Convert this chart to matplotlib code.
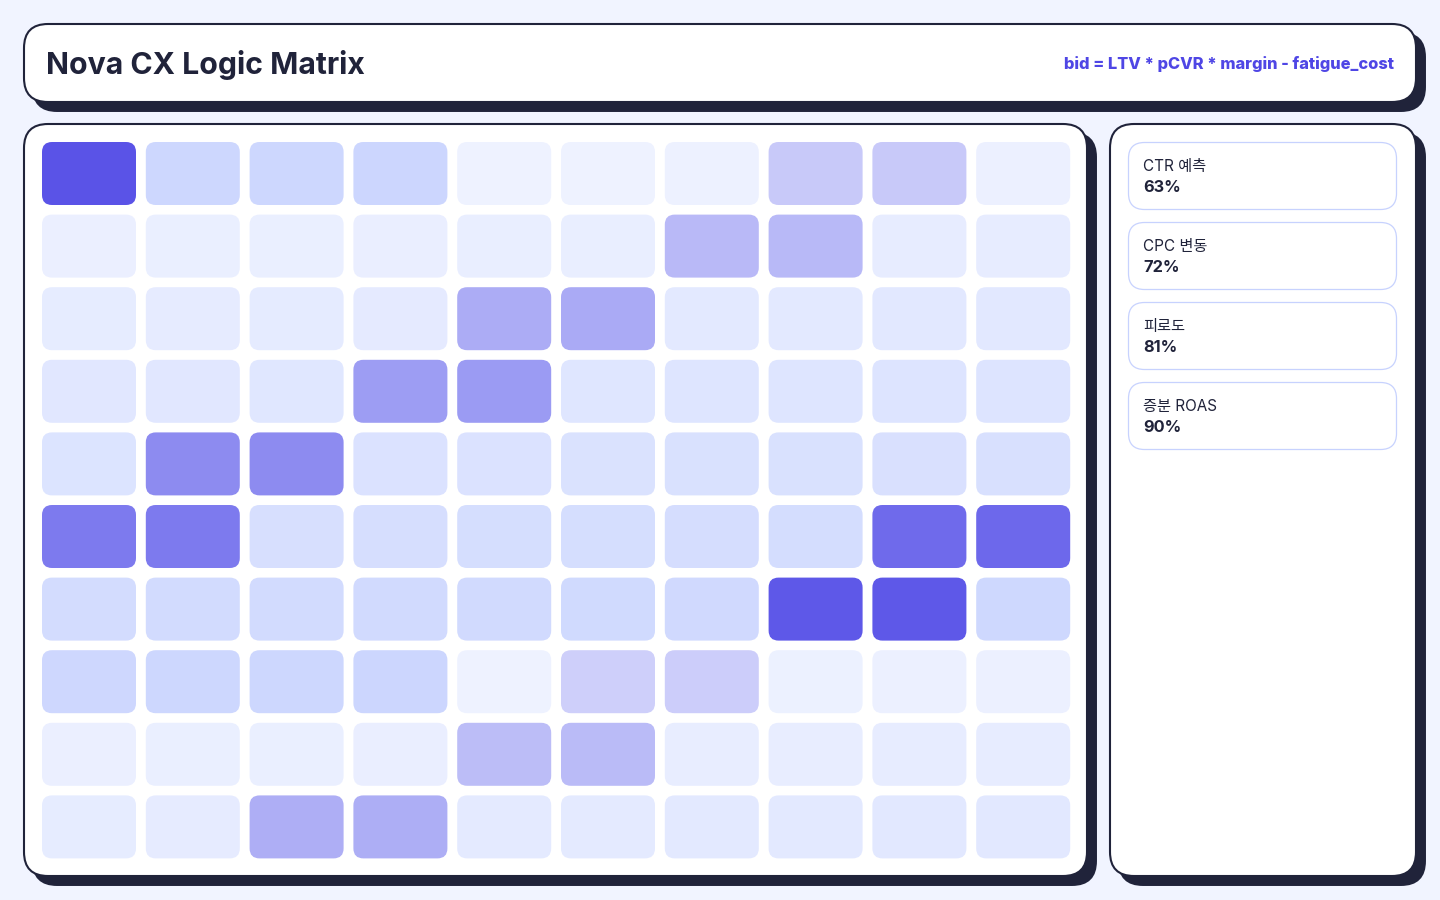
import matplotlib
matplotlib.use("Agg")
import matplotlib.pyplot as plt
from matplotlib.patches import FancyBboxPatch
from matplotlib.colors import to_rgb
import numpy as np

plt.rcParams['font.family'] = ['Inter', 'Noto Sans CJK KR', 'DejaVu Sans']

title = "Nova CX Logic Matrix"
formula = "bid = LTV * pCVR * margin - fatigue_cost"

# base tint of each cell (0 = lightest, 1 = #c7d2fe)
base_level = [
    [.83, .84, .85, .86, .00, .01, .03, .04, .05, .06],
    [.08, .09, .10, .11, .13, .14, .15, .16, .18, .19],
    [.20, .21, .23, .24, .25, .26, .28, .29, .30, .31],
    [.33, .34, .35, .36, .38, .39, .40, .41, .43, .44],
    [.45, .46, .48, .49, .50, .51, .53, .54, .55, .56],
    [.58, .59, .60, .61, .63, .64, .65, .66, .68, .69],
    [.70, .71, .73, .74, .75, .76, .78, .79, .80, .81],
    [.83, .84, .85, .86, .00, .01, .03, .04, .05, .06],
    [.08, .09, .10, .11, .13, .14, .15, .16, .18, .19],
    [.20, .21, .23, .24, .25, .26, .28, .29, .30, .31],
]

# strength of the indigo signal on top of the base tint
signal = [
    [.91, 0, 0, 0, 0, 0, 0, .23, .23, 0],
    [0, 0, 0, 0, 0, 0, .31, .31, 0, 0],
    [0, 0, 0, 0, .38, .39, 0, 0, 0, 0],
    [0, 0, 0, .46, .47, 0, 0, 0, 0, 0],
    [0, .56, .56, 0, 0, 0, 0, 0, 0, 0],
    [.66, .66, 0, 0, 0, 0, 0, 0, .76, .77],
    [0, 0, 0, 0, 0, 0, 0, .88, .88, 0],
    [0, 0, 0, 0, 0, .20, .21, 0, 0, 0],
    [0, 0, 0, 0, .29, .30, 0, 0, 0, 0],
    [0, 0, .37, .37, 0, 0, 0, 0, 0, 0],
]

metric_names = ["CTR 예측", "CPC 변동", "피로도", "증분 ROAS"]
metric_values = [63, 72, 81, 90]

ink = "#20233a"
bg = "#f1f4ff"
light = np.array(to_rgb("#eef2ff"))
tint = np.array(to_rgb("#c7d2fe"))
indigo = np.array(to_rgb("#4f46e5"))

fig = plt.figure(figsize=(14.4, 9), dpi=100, facecolor=bg)
ax = fig.add_axes([0, 0, 1, 1])
ax.set_xlim(0, 1440)
ax.set_ylim(900, 0)
ax.axis("off")


def card(x0, y0, x1, y1, r=24, shadow=9):
    ax.add_patch(FancyBboxPatch((x0 + shadow, y0 + shadow), x1 - x0, y1 - y0,
                                boxstyle=f"round,pad=0,rounding_size={r}",
                                fc=ink, ec=ink, lw=1.4, zorder=1))
    ax.add_patch(FancyBboxPatch((x0, y0), x1 - x0, y1 - y0,
                                boxstyle=f"round,pad=0,rounding_size={r}",
                                fc="white", ec=ink, lw=1.5, zorder=2))


# header
card(24, 24, 1416, 102)
ax.text(46, 65, title, fontsize=21.8, fontweight="bold", color=ink,
        va="center", ha="left", zorder=3)
ax.text(1394, 64, formula, fontsize=11.8, fontweight="heavy", color="#4f46e5",
        va="center", ha="right", zorder=3)

# matrix
card(24, 124, 1087, 876)
cw, ch = 94, 63
for r in range(10):
    for c in range(10):
        base = light + (tint - light) * base_level[r][c]
        a = signal[r][c]
        col = base * (1 - a) + indigo * a
        ax.add_patch(FancyBboxPatch((42 + c * 103.8, 142 + r * 72.6), cw, ch,
                                    boxstyle="round,pad=0,rounding_size=10",
                                    fc=col, ec="none", zorder=3))

# side panel
card(1110, 124, 1416, 876)
for i, (name, val) in enumerate(zip(metric_names, metric_values)):
    top = 142 + i * 80
    ax.add_patch(FancyBboxPatch((1128.5, top + 0.5), 268, 67,
                                boxstyle="round,pad=0,rounding_size=16",
                                fc="white", ec="#c7d2fe", lw=0.9, zorder=3))
    ax.text(1143, top + 25, name, fontsize=11, color=ink,
            va="center", ha="left", zorder=4)
    ax.text(1143, top + 45, f"{val}%", fontsize=11.8, fontweight="bold",
            color=ink, va="center", ha="left", zorder=4)

fig.savefig("out.png", dpi=100, facecolor=bg)
